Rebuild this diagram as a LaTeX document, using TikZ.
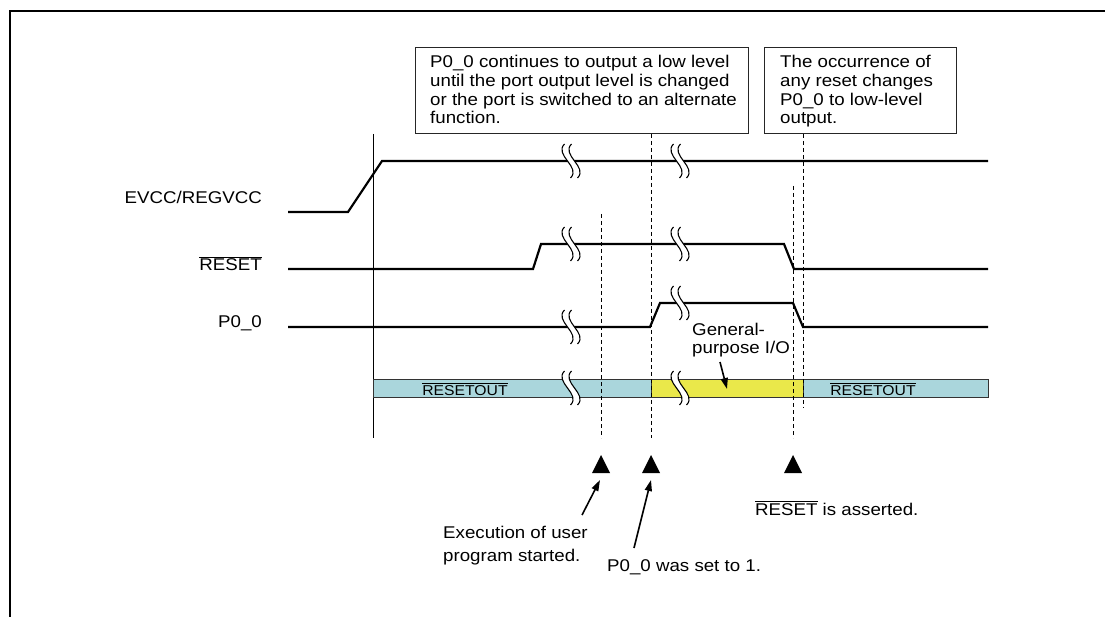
\documentclass[tikz,border=0pt]{standalone}
\usepackage{fontspec}
\setmainfont{Liberation Sans}[FakeStretch=1.1]
\usetikzlibrary{arrows.meta}
\definecolor{barblue}{RGB}{170,214,220}
\definecolor{baryellow}{RGB}{234,232,74}
\newcommand{\ovl}[1]{\leavevmode\vbox{\hrule height 0.9pt\kern 1.6pt\hbox{#1}}}
\newcommand{\sbreak}[2]{%
  \begin{scope}[shift={(#1,#2)}]
    \fill[white] (-6.5,-17) .. controls (-17.5,-6) and (10.5,6) .. (-0.5,17)
      -- (6.5,17) .. controls (17.5,6) and (-10.5,-6) .. (0.5,-17) -- cycle;
    \draw[line width=1.1pt] (-6.5,-17) .. controls (-17.5,-6) and (10.5,6) .. (-0.5,17);
    \draw[line width=1.1pt] (0.5,-17) .. controls (-10.5,-6) and (17.5,6) .. (6.5,17);
  \end{scope}}
\begin{document}
\begin{tikzpicture}[x=1pt,y=-1pt,
  sig/.style={line width=2.2pt, line join=miter},
  guide/.style={line width=0.9pt, dash pattern=on 4pt off 3pt},
  note/.style={draw=black!85, line width=0.9pt, fill=white, inner sep=0pt, anchor=north west},
  txt/.style={inner sep=0pt, font=\fontsize{17}{18.7}\selectfont, align=left},
  sig label/.style={txt, anchor=base east},
  barseg/.style={draw=black!80, line width=0.8pt, inner sep=0pt, anchor=north west, minimum height=18pt},
  bartxt/.style={inner sep=0pt, anchor=base, font=\fontsize{14.3}{16}\selectfont},
  pointer/.style={line width=1.6pt, -{Triangle[length=11pt,width=7pt]}}
]
\useasboundingbox (0,0) rectangle (1105,617);
% frame
\draw[line width=2pt] (10,617) -- (10,11) -- (1105,11);

% note boxes
\node[note, minimum width=333pt, minimum height=86pt] (box1) at (415,47) {};
\node[note, minimum width=192pt, minimum height=86pt] (box2) at (764,47) {};
\node[txt, anchor=base west] (t1) at (430,124) {P0\_0 continues to output a low level\\until the port output level is changed\\or the port is switched to an alternate\\function.};
\node[txt, anchor=base west] (t2) at (780,124) {The occurrence of\\any reset changes\\P0\_0 to low-level\\output.};

% signal labels
\node[sig label] (lvcc) at (262,204) {EVCC/REGVCC};
\node[sig label] (lrst) at (262,271) {\ovl{RESET}};
\node[sig label] (lp00) at (262,328) {P0\_0};

% reference vertical line
\draw[line width=0.9pt] (373,134) -- (373,438);

% signals
\draw[sig] (288,212) -- (348,212) -- (382,161) -- (988,161);
\draw[sig] (288,269) -- (533,269) -- (541,244) -- (784,244) -- (794,269) -- (988,269);
\draw[sig] (288,327) -- (650,327) -- (660,303) -- (793,303) -- (803,327) -- (988,327);

% bar
\node[barseg, fill=barblue, minimum width=278pt] (seg1) at (373,379) {};
\node[barseg, fill=baryellow, minimum width=152pt] (seg2) at (651,379) {};
\node[barseg, fill=barblue, minimum width=185pt] (seg3) at (803,379) {};
\node[bartxt] (ro1) at (465,395) {\ovl{RESETOUT}};
\node[bartxt] (ro2) at (873,395) {\ovl{RESETOUT}};

% breaks
\sbreak{571}{161}\sbreak{680}{161}
\sbreak{571}{244}\sbreak{680}{244}
\sbreak{571}{327}\sbreak{680}{303}
\sbreak{571}{388}\sbreak{680}{388}

% dashed guide lines
\draw[guide] (601,214) -- (601,438);
\draw[guide] (box1.south -| 651,0) -- (651,438);
\draw[guide] (793,186) -- (793,438);
\draw[guide] (box2.south -| 803,0) -- (803,407);

% General-purpose I/O
\node[txt, anchor=base west, font=\fontsize{17}{18}\selectfont] (gpio) at (692,353) {General-\\purpose I/O};
\coordinate (gps) at (720,362);
\coordinate (gpe) at (727,389);
\draw[pointer] (gps) -- (gpe);

% triangles
\fill (592,473) -- (601,455) -- (610,473) -- cycle;
\fill (642,473) -- (651,455) -- (660,473) -- cycle;
\fill (784,473) -- (793,455) -- (802,473) -- cycle;

% annotations
\coordinate (a1s) at (582,515);
\coordinate (a1e) at (600,480);
\coordinate (a2s) at (634,548);
\coordinate (a2e) at (651,480);
\draw[pointer] (a1s) -- (a1e);
\draw[pointer] (a2s) -- (a2e);
\node[txt, anchor=base west, font=\fontsize{17}{22.5}\selectfont] (exec) at (443,561) {Execution of user\\program started.};
\node[txt, anchor=base west] (set1) at (607,571) {P0\_0 was set to 1.};
\node[txt, anchor=base west] (rsta) at (755,515) {\ovl{RESET} is asserted.};
\end{tikzpicture}
\end{document}
